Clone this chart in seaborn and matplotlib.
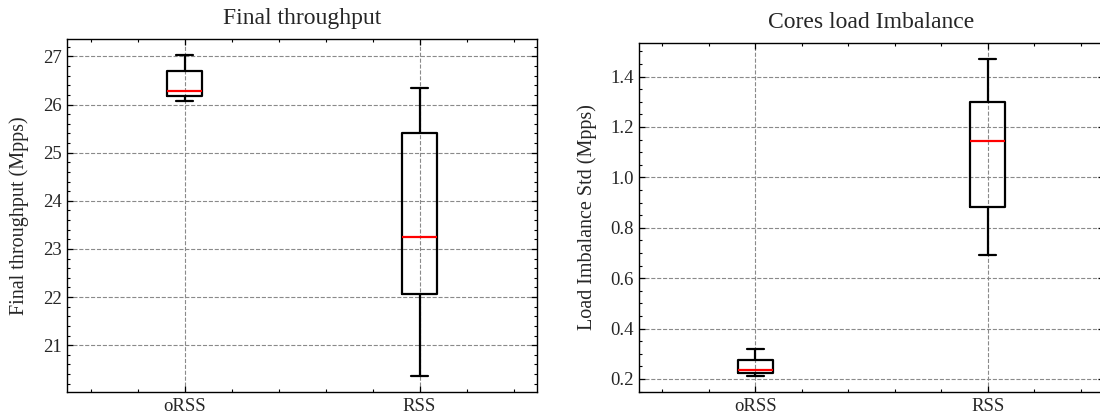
import matplotlib
matplotlib.use("Agg")
import matplotlib.pyplot as plt
from matplotlib.ticker import AutoMinorLocator
import seaborn as sns
import pandas as pd

# Scheme names shown on both panels
schemes = ["oRSS", "RSS"]

# Per-run samples (min, q1, median, q3, max) for each scheme
throughput_orss = [26.08, 26.17, 26.29, 26.69, 27.03]
throughput_rss = [20.36, 22.06, 23.24, 25.42, 26.35]

imbalance_orss = [0.211, 0.223, 0.237, 0.275, 0.318]
imbalance_rss = [0.690, 0.883, 1.146, 1.300, 1.470]

sns.set_theme(style="ticks")
plt.rcParams["font.family"] = ["Liberation Serif", "DejaVu Serif"]
plt.rcParams["mathtext.fontset"] = "stix"


def frame(name_a, vals_a, name_b, vals_b):
    return pd.DataFrame({
        "scheme": [name_a] * len(vals_a) + [name_b] * len(vals_b),
        "value": list(vals_a) + list(vals_b),
    })


df_tp = frame(schemes[0], throughput_orss, schemes[1], throughput_rss)
df_im = frame(schemes[0], imbalance_orss, schemes[1], imbalance_rss)

fig = plt.figure(figsize=(11, 4.2), dpi=100)
W, H = 1100, 420
ax1 = fig.add_axes([67 / W, (H - 392) / H, 470 / W, (392 - 39) / H])
ax2 = fig.add_axes([639 / W, (H - 392) / H, 465 / W, (392 - 43) / H])

panels = [
    (ax1, df_tp, "Final throughput", "Final throughput (Mpps)", -0.080),
    (ax2, df_im, "Cores load Imbalance", "Load Imbalance Std (Mpps)", -0.091),
]

for ax, df, title, ylabel, ylab_x in panels:
    sns.boxplot(
        data=df, x="scheme", y="value", order=schemes, ax=ax,
        width=0.15, fill=False, color="black", linewidth=1.6,
        whis=1.5, showfliers=False,
        medianprops=dict(color="red", linewidth=1.6),
        capprops=dict(color="black", linewidth=1.6),
        whiskerprops=dict(color="black", linewidth=1.6),
        boxprops=dict(color="black", linewidth=1.6),
    )
    ax.set_xlim(-0.5, 1.5)
    ax.margins(y=0.05)
    ax.set_title(title, fontsize=17, pad=10.5)
    ax.set_xlabel("")
    ax.set_ylabel(ylabel, fontsize=14.5)
    ax.yaxis.set_label_coords(ylab_x, 0.5)
    ax.xaxis.set_minor_locator(AutoMinorLocator())
    ax.yaxis.set_minor_locator(AutoMinorLocator())
    ax.tick_params(which="both", direction="in", top=True, right=True,
                   color="black", labelsize=13.5)
    ax.tick_params(which="major", length=4.5, width=0.9, pad=4)
    ax.tick_params(which="minor", length=2.4, width=0.8)
    ax.grid(True, which="major", linestyle="--", color="#8a8a8a",
            linewidth=0.8)
    ax.set_axisbelow(True)
    for sp in ax.spines.values():
        sp.set_visible(True)
        sp.set_color("black")
        sp.set_linewidth(1.0)

fig.savefig("out.png", dpi=100)
